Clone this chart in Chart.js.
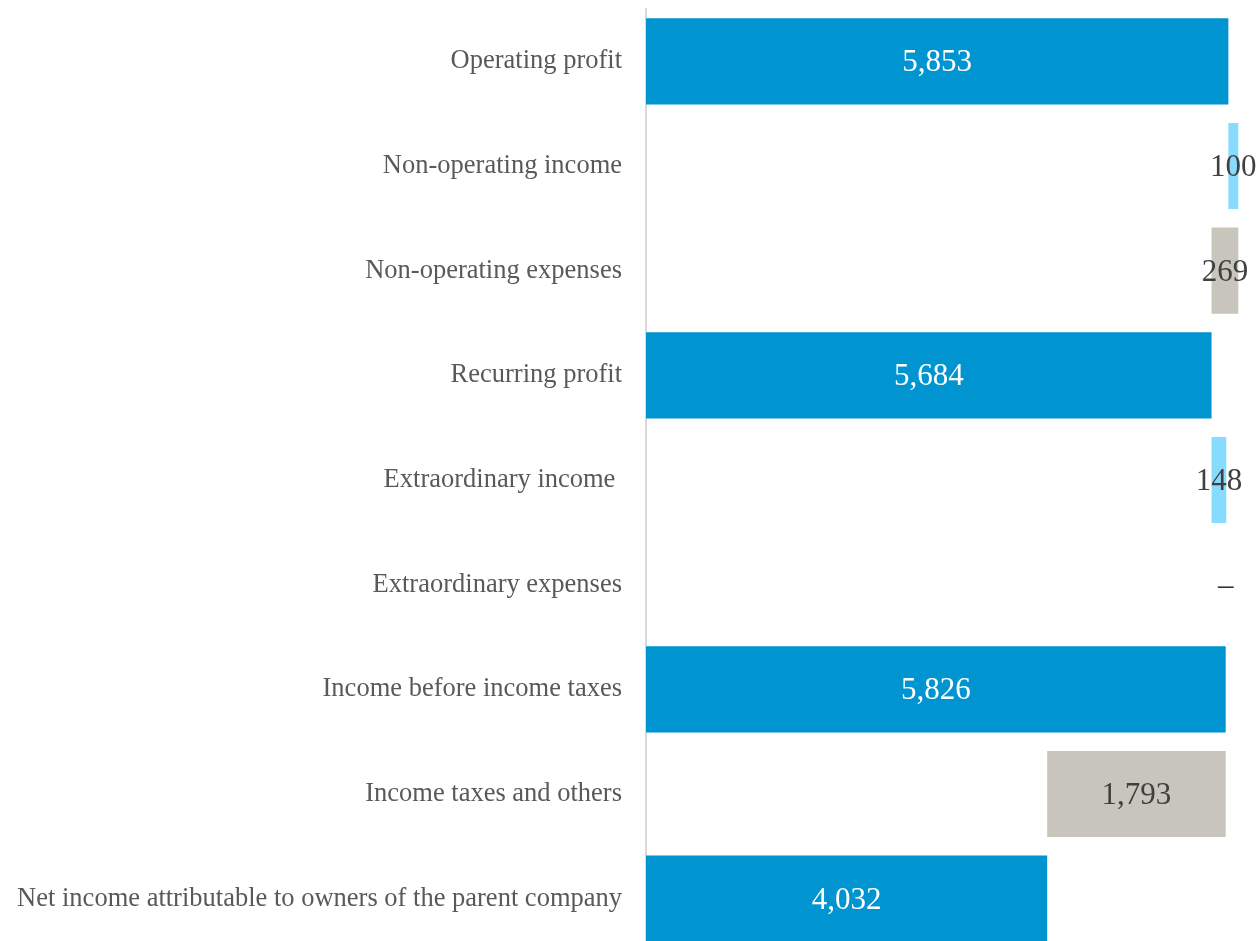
<!DOCTYPE html>
<html>

<head>
    <meta charset="utf-8" />
    <style>
        body { margin: 0; background: #ffffff; overflow: hidden; }
        .wrap { position: relative; width: 1260px; height: 951px; }
    </style>
</head>

<body>

    <div class="wrap">
        <canvas id="chart"></canvas>
    </div>

    <script src="https://cdn.jsdelivr.net/npm/chart.js"></script>
    <script type="text/javascript">

        // Categorias (el espacio final de "Extraordinary income " esta en el original)
        var categorias = [
            'Operating profit',
            'Non-operating income',
            'Non-operating expenses',
            'Recurring profit',
            'Extraordinary income ',
            'Extraordinary expenses',
            'Income before income taxes',
            'Income taxes and others',
            'Net income attributable to owners of the parent company'
        ];

        // Valores mostrados en cada barra
        var valores = [5853, 100, 269, 5684, 148, 0, 5826, 1793, 4032];

        // Inicio y fin de cada barra (cascada)
        var inicio = [0, 5853, 5684, 0, 5684, 5826, 0, 4032, 0];
        var fin = [5853, 5953, 5953, 5684, 5832, 5826, 5826, 5826, 4032];

        var tipos = ['total', 'mas', 'menos', 'total', 'mas', 'menos', 'total', 'menos', 'total'];

        var colores = { total: '#0094d1', mas: '#87dbff', menos: '#c8c5bc' };
        var coloresTexto = { total: '#ffffff', mas: '#404040', menos: '#404040' };

        // Plugin para dibujar las etiquetas de cada barra
        const etiquetas = {
            id: 'etiquetas',
            afterDatasetsDraw(chart) {
                const ctx = chart.ctx;
                const meta = chart.getDatasetMeta(0);
                ctx.save();
                ctx.font = '31px "Liberation Serif", "Times New Roman", serif';
                ctx.textAlign = 'center';
                ctx.textBaseline = 'middle';
                meta.data.forEach((bar, i) => {
                    const x = (bar.x + bar.base) / 2;
                    const texto = valores[i] === 0 ? '\u2013' : valores[i].toLocaleString('en-US');
                    ctx.fillStyle = valores[i] === 0 ? '#333333' : coloresTexto[tipos[i]];
                    ctx.fillText(texto, x, bar.y + 2);
                });
                ctx.restore();
            }
        };

        const ctx = document.getElementById('chart').getContext('2d');

        new Chart(ctx, {
            type: 'bar',
            data: {
                labels: categorias,
                datasets: [{
                    data: categorias.map((c, i) => [inicio[i], fin[i]]),
                    backgroundColor: tipos.map(t => colores[t]),
                    borderWidth: 0,
                    barPercentage: 0.823,
                    categoryPercentage: 1
                }]
            },
            options: {
                indexAxis: 'y',
                responsive: true,
                maintainAspectRatio: false,
                animation: false,
                layout: { padding: { top: 9, right: 17, bottom: 0, left: 0 } },
                plugins: {
                    legend: { display: false },
                    tooltip: { enabled: false }
                },
                scales: {
                    x: {
                        display: false,
                        min: 0,
                        max: 6000
                    },
                    y: {
                        afterFit: function (scale) {
                            scale.width = 646;
                            scale.paddingTop = 0;
                            scale.paddingBottom = 0;
                        },
                        grid: { display: false, drawTicks: false },
                        border: { display: true, color: '#d9d9d9', width: 2 },
                        ticks: {
                            padding: 24,
                            color: '#595959',
                            font: { family: '"Liberation Serif", "Times New Roman", serif', size: 26.5 }
                        }
                    }
                }
            },
            plugins: [etiquetas]
        });

    </script>

</body>

</html>
